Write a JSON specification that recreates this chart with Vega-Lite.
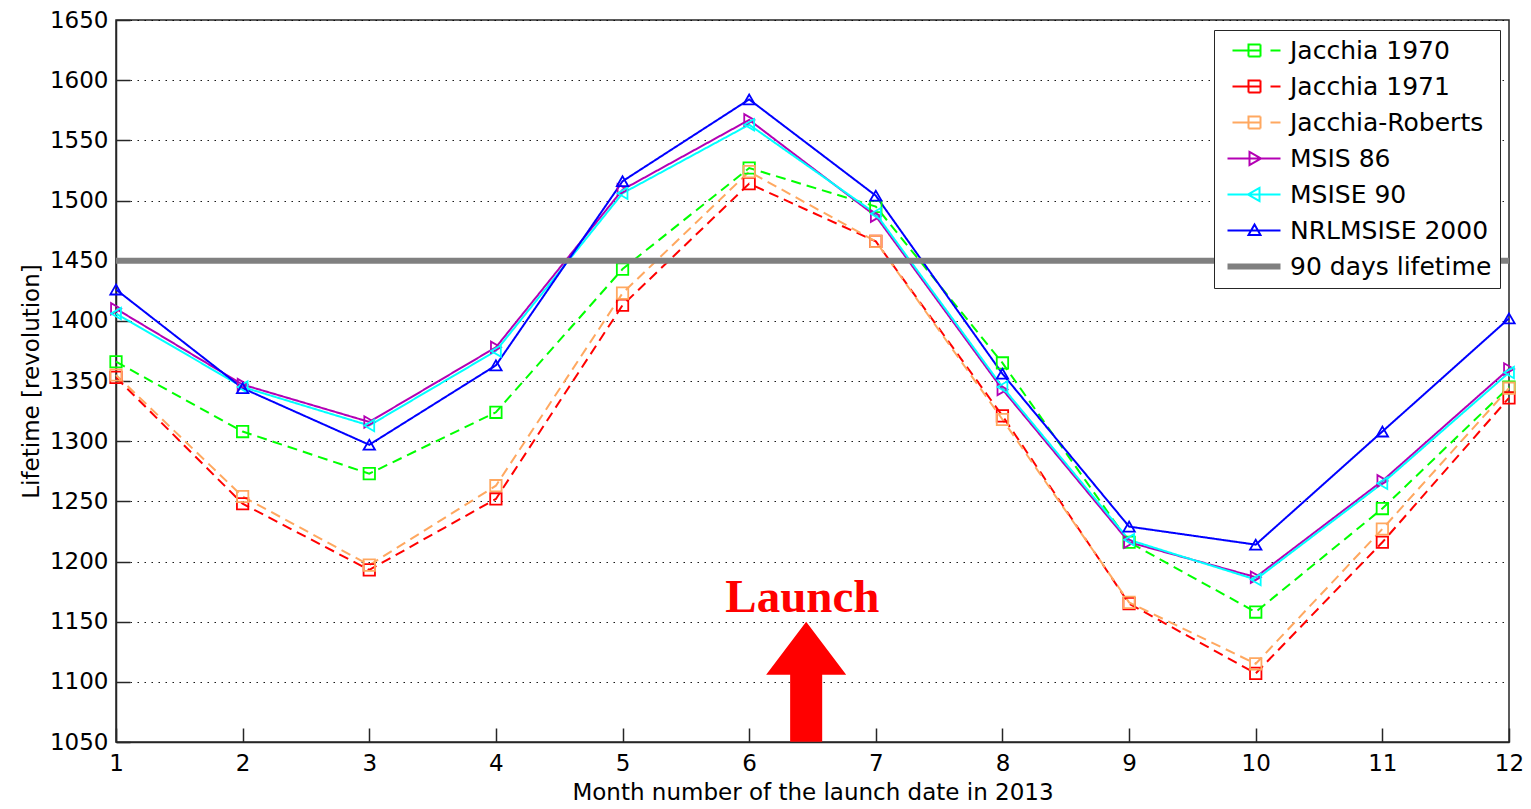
{
  "$schema": "https://vega.github.io/schema/vega-lite/v6.json",
  "autosize": "none",
  "width": 1393,
  "height": 722,
  "padding": {"left": 116, "top": 20, "right": 22, "bottom": 67},
  "background": "white",
  "config": {
    "view": {"stroke": "#262626", "strokeWidth": 1.5},
    "font": "DejaVu Sans"
  },
  "datasets": {
    "series": [
      {"model": "Jacchia 1970", "month": 1, "value": 1366},
      {"model": "Jacchia 1970", "month": 2, "value": 1308},
      {"model": "Jacchia 1970", "month": 3, "value": 1273},
      {"model": "Jacchia 1970", "month": 4, "value": 1324},
      {"model": "Jacchia 1970", "month": 5, "value": 1443},
      {"model": "Jacchia 1970", "month": 6, "value": 1527},
      {"model": "Jacchia 1970", "month": 7, "value": 1495},
      {"model": "Jacchia 1970", "month": 8, "value": 1365},
      {"model": "Jacchia 1970", "month": 9, "value": 1216},
      {"model": "Jacchia 1970", "month": 10, "value": 1158},
      {"model": "Jacchia 1970", "month": 11, "value": 1244},
      {"model": "Jacchia 1970", "month": 12, "value": 1345},
      {"model": "Jacchia 1971", "month": 1, "value": 1353},
      {"model": "Jacchia 1971", "month": 2, "value": 1248},
      {"model": "Jacchia 1971", "month": 3, "value": 1193},
      {"model": "Jacchia 1971", "month": 4, "value": 1252},
      {"model": "Jacchia 1971", "month": 5, "value": 1413},
      {"model": "Jacchia 1971", "month": 6, "value": 1514},
      {"model": "Jacchia 1971", "month": 7, "value": 1466},
      {"model": "Jacchia 1971", "month": 8, "value": 1321},
      {"model": "Jacchia 1971", "month": 9, "value": 1165},
      {"model": "Jacchia 1971", "month": 10, "value": 1107},
      {"model": "Jacchia 1971", "month": 11, "value": 1216},
      {"model": "Jacchia 1971", "month": 12, "value": 1336},
      {"model": "Jacchia-Roberts", "month": 1, "value": 1355},
      {"model": "Jacchia-Roberts", "month": 2, "value": 1254},
      {"model": "Jacchia-Roberts", "month": 3, "value": 1197},
      {"model": "Jacchia-Roberts", "month": 4, "value": 1263},
      {"model": "Jacchia-Roberts", "month": 5, "value": 1423},
      {"model": "Jacchia-Roberts", "month": 6, "value": 1524},
      {"model": "Jacchia-Roberts", "month": 7, "value": 1466},
      {"model": "Jacchia-Roberts", "month": 8, "value": 1318},
      {"model": "Jacchia-Roberts", "month": 9, "value": 1166},
      {"model": "Jacchia-Roberts", "month": 10, "value": 1115},
      {"model": "Jacchia-Roberts", "month": 11, "value": 1227},
      {"model": "Jacchia-Roberts", "month": 12, "value": 1344},
      {"model": "MSIS 86", "month": 1, "value": 1410},
      {"model": "MSIS 86", "month": 2, "value": 1347},
      {"model": "MSIS 86", "month": 3, "value": 1316},
      {"model": "MSIS 86", "month": 4, "value": 1378},
      {"model": "MSIS 86", "month": 5, "value": 1509},
      {"model": "MSIS 86", "month": 6, "value": 1567},
      {"model": "MSIS 86", "month": 7, "value": 1487},
      {"model": "MSIS 86", "month": 8, "value": 1343},
      {"model": "MSIS 86", "month": 9, "value": 1216},
      {"model": "MSIS 86", "month": 10, "value": 1187},
      {"model": "MSIS 86", "month": 11, "value": 1267},
      {"model": "MSIS 86", "month": 12, "value": 1360},
      {"model": "MSISE 90", "month": 1, "value": 1406},
      {"model": "MSISE 90", "month": 2, "value": 1345},
      {"model": "MSISE 90", "month": 3, "value": 1313},
      {"model": "MSISE 90", "month": 4, "value": 1375},
      {"model": "MSISE 90", "month": 5, "value": 1506},
      {"model": "MSISE 90", "month": 6, "value": 1563},
      {"model": "MSISE 90", "month": 7, "value": 1489},
      {"model": "MSISE 90", "month": 8, "value": 1345},
      {"model": "MSISE 90", "month": 9, "value": 1218},
      {"model": "MSISE 90", "month": 10, "value": 1185},
      {"model": "MSISE 90", "month": 11, "value": 1265},
      {"model": "MSISE 90", "month": 12, "value": 1357},
      {"model": "NRLMSISE 2000", "month": 1, "value": 1426},
      {"model": "NRLMSISE 2000", "month": 2, "value": 1344},
      {"model": "NRLMSISE 2000", "month": 3, "value": 1297},
      {"model": "NRLMSISE 2000", "month": 4, "value": 1363},
      {"model": "NRLMSISE 2000", "month": 5, "value": 1516},
      {"model": "NRLMSISE 2000", "month": 6, "value": 1584},
      {"model": "NRLMSISE 2000", "month": 7, "value": 1504},
      {"model": "NRLMSISE 2000", "month": 8, "value": 1356},
      {"model": "NRLMSISE 2000", "month": 9, "value": 1229},
      {"model": "NRLMSISE 2000", "month": 10, "value": 1214},
      {"model": "NRLMSISE 2000", "month": 11, "value": 1308},
      {"model": "NRLMSISE 2000", "month": 12, "value": 1402}
    ],
    "threshold": [{"model": "90 days lifetime", "value": 1450}],
    "launch": [{"label": "Launch", "month": 6.42, "value": 1158, "arrowMonth": 6.45, "arrowValue": 1100}]
  },
  "layer": [
    {
      "data": {"name": "series"},
      "mark": {"type": "line", "strokeWidth": 2},
      "encoding": {
        "x": {
          "field": "month", "type": "quantitative",
          "scale": {"domain": [1, 12], "nice": false, "zero": false},
          "axis": {
            "title": "Month number of the launch date in 2013",
            "values": [1,2,3,4,5,6,7,8,9,10,11,12],
            "format": "d",
            "labelFlush": false,
            "grid": false,
            "domainColor": "#262626", "domainWidth": 1.5,
            "tickColor": "#262626", "tickSize": -14, "tickWidth": 1.5,
            "labelFont": "DejaVu Sans", "labelFontSize": 23, "labelColor": "black",
            "labelPadding": 24,
            "titleFont": "DejaVu Sans", "titleFontSize": 23, "titleFontWeight": "normal", "titleColor": "black",
            "titlePadding": 6
          }
        },
        "y": {
          "field": "value", "type": "quantitative",
          "scale": {"domain": [1050, 1650], "nice": false, "zero": false},
          "axis": {
            "title": "Lifetime [revolution]",
            "values": [1050,1100,1150,1200,1250,1300,1350,1400,1450,1500,1550,1600,1650],
            "format": "d",
            "labelFlush": false,
            "grid": true, "gridColor": "black", "gridDash": [1.5, 5.5], "gridWidth": 1.2, "gridOpacity": 0.9,
            "domainColor": "#262626", "domainWidth": 1.5,
            "tickColor": "#262626", "tickSize": -14, "tickWidth": 1.5,
            "labelFont": "DejaVu Sans", "labelFontSize": 23, "labelColor": "black",
            "labelPadding": 22,
            "titleFont": "DejaVu Sans", "titleFontSize": 23, "titleFontWeight": "normal", "titleColor": "black",
            "titlePadding": 6
          }
        },
        "color": {
          "field": "model", "type": "nominal",
          "scale": {
            "domain": ["Jacchia 1970", "Jacchia 1971", "Jacchia-Roberts", "MSIS 86", "MSISE 90", "NRLMSISE 2000", "90 days lifetime"],
            "range": ["#00ff00", "#ff0000", "#ffa860", "#b400b4", "#00ffff", "#0000ff", "#808080"]
          },
          "legend": {
            "title": null,
            "orient": "none",
            "legendX": 1098,
            "legendY": 10,
            "fillColor": "white",
            "strokeColor": "#262626",
            "padding": 8,
            "labelFont": "DejaVu Sans",
            "labelFontSize": 25,
            "labelColor": "black",
            "labelLimit": 400,
            "symbolSize": 400,
            "symbolOffset": 20,
            "labelOffset": 23,
            "rowPadding": 10,
            "encode": {
              "symbols": {
                "update": {
                  "shape": {"signal": "datum.value === 'MSIS 86' ? 'M-2.7,0H2.6M-0.5,-0.65L0.65,0L-0.5,0.65Z' : datum.value === 'MSISE 90' ? 'M-2.7,0H2.6M0.5,-0.65L-0.65,0L0.5,0.65Z' : datum.value === 'NRLMSISE 2000' ? 'M-2.7,0H2.6M0,-0.6L0.6,0.45L-0.6,0.45Z' : datum.value === '90 days lifetime' ? 'M-2.7,0H2.6' : 'M-2.2,0H-0.6M-0.6,-0.6H0.6V0.6H-0.6ZM-0.6,0H0.6M1.6,0H2.6'"},
                  "strokeWidth": {"signal": "datum.value === '90 days lifetime' ? 6 : 2"},
                  "strokeDash": {"value": [1, 0]},
                  "fill": {"value": "transparent"},
                  "fillOpacity": {"value": 0},
                  "opacity": {"value": 1}
                }
              }
            }
          }
        },
        "strokeDash": {
          "field": "model", "type": "nominal",
          "scale": {
            "domain": ["Jacchia 1970", "Jacchia 1971", "Jacchia-Roberts", "MSIS 86", "MSISE 90", "NRLMSISE 2000"],
            "range": [[10, 6], [10, 6], [10, 6], [1, 0], [1, 0], [1, 0]]
          },
          "legend": null
        }
      }
    },
    {
      "data": {"name": "series"},
      "mark": {"type": "point", "filled": false, "strokeWidth": 1.8, "size": 130, "opacity": 1},
      "encoding": {
        "x": {"field": "month", "type": "quantitative"},
        "y": {"field": "value", "type": "quantitative"},
        "color": {"field": "model", "type": "nominal"},
        "shape": {
          "field": "model", "type": "nominal",
          "scale": {
            "domain": ["Jacchia 1970", "Jacchia 1971", "Jacchia-Roberts", "MSIS 86", "MSISE 90", "NRLMSISE 2000"],
            "range": ["square", "square", "square", "triangle-right", "triangle-left", "triangle-up"]
          },
          "legend": null
        }
      }
    },
    {
      "data": {"name": "threshold"},
      "mark": {"type": "rule", "strokeWidth": 6},
      "encoding": {
        "y": {"field": "value", "type": "quantitative"},
        "color": {"field": "model", "type": "nominal"}
      }
    },
    {
      "data": {"name": "launch"},
      "mark": {
        "type": "point", "filled": true, "color": "#ff0000", "opacity": 1, "strokeWidth": 0,
        "shape": "M0,-1L0.667,-0.12L0.267,-0.12L0.267,1L-0.267,1L-0.267,-0.12L-0.667,-0.12Z",
        "size": 14400
      },
      "encoding": {
        "x": {"field": "arrowMonth", "type": "quantitative"},
        "y": {"field": "arrowValue", "type": "quantitative"}
      }
    },
    {
      "data": {"name": "launch"},
      "mark": {
        "type": "text", "color": "#ff0000", "font": "Liberation Serif", "fontWeight": "bold",
        "fontSize": 47, "align": "center", "baseline": "alphabetic"
      },
      "encoding": {
        "x": {"field": "month", "type": "quantitative"},
        "y": {"field": "value", "type": "quantitative"},
        "text": {"field": "label"}
      }
    }
  ]
}
